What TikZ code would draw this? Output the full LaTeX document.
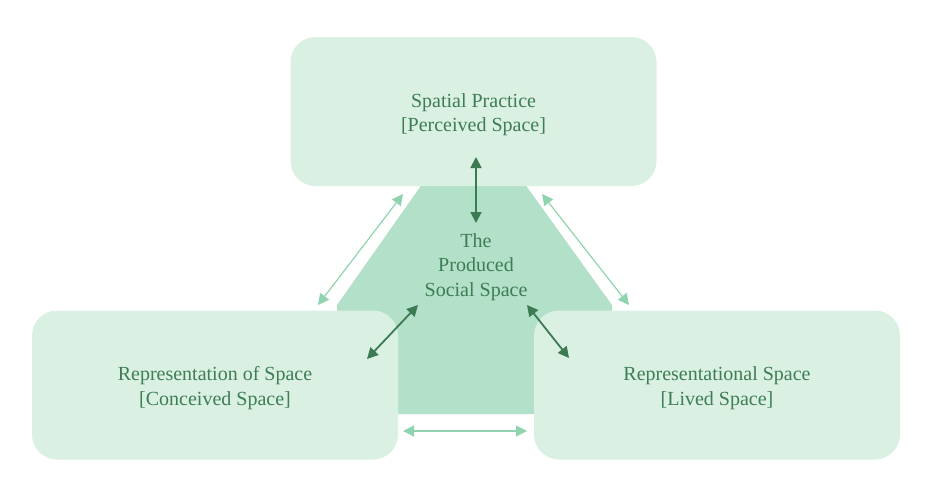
\documentclass[tikz,border=0pt]{standalone}
\usepackage{fontspec}
\setmainfont{Liberation Serif}
\usetikzlibrary{arrows.meta}
\definecolor{boxgreen}{HTML}{DAF0E3}
\definecolor{coregreen}{HTML}{B3E0C9}
\definecolor{textgreen}{HTML}{3E7D55}
\definecolor{darkarrow}{HTML}{3B7A52}
\definecolor{lightarrow}{HTML}{8FD4AE}
\tikzset{
  spacebox/.style = {
    rectangle, rounded corners=25pt, fill=boxgreen,
    minimum width=366pt, minimum height=149pt,
    align=center, text=textgreen, text height=44.5pt
  },
  inner/.style = {<->, darkarrow, line width=1.8pt},
  outer/.style = {<->, lightarrow, line width=1.2pt}
}
\tikzset{>={Triangle[length=11pt,width=11pt]}}

\begin{document}
\begin{tikzpicture}[x=1pt,y=-1pt,font=\fontsize{20}{24.5}\selectfont]
  \useasboundingbox (0,0) rectangle (936,499);
  % the produced social space behind the boxes
  \fill[coregreen] (425,180) -- (522,180) -- (612,305) -- (612,414) -- (337,414) -- (337,305) -- cycle;
  \node[text=textgreen,align=center] (core) at (476,267) {The\\Produced\\Social Space};
  \node[spacebox] (perceived) at (473.5,111.5) {Spatial Practice\\{[}Perceived Space{]}};
  \node[spacebox] (conceived) at (215,385) {Representation of Space\\{[}Conceived Space{]}};
  \node[spacebox] (lived) at (717,385) {Representational Space\\{[}Lived Space{]}};
  % arrow ends
  \coordinate (pc) at (476,157);
  \coordinate (cp) at (476,223);
  \coordinate (cl1) at (418,305);
  \coordinate (cl2) at (367,359);
  \coordinate (cr1) at (527,305);
  \coordinate (cr2) at (569,358);
  \coordinate (ol1) at (403,194);
  \coordinate (ol2) at (318,305);
  \coordinate (or1) at (542,194);
  \coordinate (or2) at (629,305);
  \coordinate (ob1) at (403,431);
  \coordinate (ob2) at (527,431);
  \draw[inner] (pc) -- (cp);
  \draw[inner] (cl1) -- (cl2);
  \draw[inner] (cr1) -- (cr2);
  \draw[outer] (ol1) -- (ol2);
  \draw[outer] (or1) -- (or2);
  \draw[outer] (ob1) -- (ob2);
\end{tikzpicture}
\end{document}
